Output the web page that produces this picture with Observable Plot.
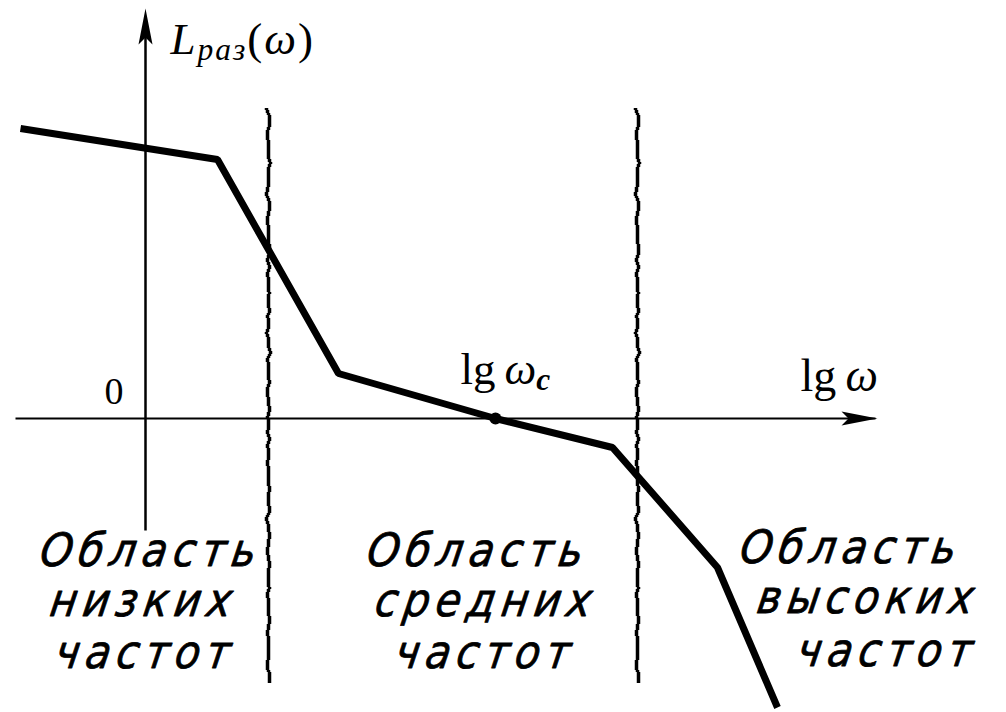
<!DOCTYPE html>
<html>
<head>
<meta charset="utf-8">
<script src="https://cdn.jsdelivr.net/npm/d3@7"></script>
<script src="https://cdn.jsdelivr.net/npm/@observablehq/plot@0.6"></script>
<style>
  html, body { margin: 0; padding: 0; background: #fff; }
  #chart svg { display: block; }
</style>
</head>
<body>
<div id="chart"></div>
<script>
// Asymptotic log-magnitude characteristic L_раз(lg ω) of an open loop system
const lgOmega = [-1.25, 0.72, 1.93, 3.50, 4.67, 5.72, 6.32];
const lRaz    = [2.90, 2.59, 0.45, 0.00, -0.29, -1.49, -2.89];

// crossover frequency lg ω_c (where L crosses zero)
const lgOmegaC = 3.50;

// boundaries between low / middle / high frequency regions
const regionBounds = [1.23, 4.92];

// region captions, one entry per line
const regionText = [
  "Область", "низких", "частот",
  "Область", "средних", "частот",
  "Область", "высоких", "частот"
];
const regionTextX = [-1.07, -0.97, -0.92, 2.20, 2.28, 2.48, 5.93, 6.10, 6.50];
const regionTextY = [-1.47, -1.97, -2.49, -1.47, -1.97, -2.49, -1.44, -1.94, -2.47];

// axis labels (serif, with sub-scripts added afterwards)
const axisText  = ["Lраз(ω)", "0", "lgωc", "lgω"];
const axisTextX = [0.25, -0.41, 3.15, 6.55];
const axisTextY = [3.65, 0.15, 0.35, 0.28];
const axisTextSize = [45, 38, 45, 46];

// axis extents
const xAxisFrom = -1.30, xAxisTo = 7.30;
const yAxisFrom = -1.12, yAxisTo = 4.10;
const boundFrom = 3.10, boundTo = -2.65;

const curve = lgOmega.map((x, i) => ({x, y: lRaz[i]}));
const regions = regionText.map((t, i) => ({t, x: regionTextX[i], y: regionTextY[i]}));
const axisLabels = axisText.map((t, i) => ({t, x: axisTextX[i], y: axisTextY[i], s: axisTextSize[i]}));

// narrow filled arrow head, tip at the symbol origin, pointing up
const arrowHead = {
  draw(ctx) {
    ctx.moveTo(0, 0);
    ctx.lineTo(-7, 36);
    ctx.lineTo(0, 29);
    ctx.lineTo(7, 36);
    ctx.closePath();
  }
};

const svg = Plot.plot({
  width: 1006,
  height: 712,
  margin: 0,
  x: {domain: [-1.45, 8.61], axis: null},
  y: {domain: [-2.94, 4.18], axis: null},
  style: {background: "#fff"},
  marks: [
    // coordinate axes
    Plot.link([{x1: xAxisFrom, y1: 0, x2: xAxisTo, y2: 0}], {x1: "x1", y1: "y1", x2: "x2", y2: "y2", stroke: "#000", strokeWidth: 2}),
    Plot.link([{x1: 0, y1: yAxisFrom, x2: 0, y2: yAxisTo - 0.1}], {x1: "x1", y1: "y1", x2: "x2", y2: "y2", stroke: "#000", strokeWidth: 2.5}),
    Plot.dot([{x: xAxisTo + 0.02, y: 0, a: 90}, {x: 0, y: yAxisTo, a: 0}], {x: "x", y: "y", rotate: "a", symbol: arrowHead, fill: "#000", stroke: "none"}),
    // region boundaries (wavy hand-drawn lines)
    Plot.ruleX(regionBounds, {x: d => d, y1: boundFrom, y2: boundTo, stroke: "#000", strokeWidth: 3.5}),
    // the characteristic
    Plot.line(curve, {x: "x", y: "y", stroke: "#000", strokeWidth: 7, strokeLinejoin: "miter", strokeLinecap: "butt"}),
    Plot.dot([{x: lgOmegaC, y: 0}], {x: "x", y: "y", r: 6, fill: "#000"}),
    // region captions
    Plot.text(regions, {x: "x", y: "y", text: "t", textAnchor: "start", lineAnchor: "bottom",
      fontFamily: "DejaVu Sans", fontStyle: "italic", fontSize: 41, fill: "#000", stroke: "#000", strokeWidth: 0.7}),
    // axis labels
    Plot.text(axisLabels, {x: "x", y: "y", text: "t", textAnchor: "start", lineAnchor: "bottom",
      fontFamily: "Liberation Serif", fontSize: "s", fill: "#000"})
  ]
});

const root = d3.select(svg);

// wavy distortion for the region boundaries (shift each row sideways)
const defs = root.insert("defs", ":first-child");
const filt = defs.append("filter").attr("id", "wavy")
  .attr("filterUnits", "userSpaceOnUse")
  .attr("color-interpolation-filters", "sRGB")
  .attr("x", 0).attr("y", 0).attr("width", 1006).attr("height", 712);
filt.append("feTurbulence").attr("type", "fractalNoise")
  .attr("baseFrequency", "0 0.07").attr("numOctaves", 2).attr("seed", 11).attr("result", "noise");
filt.append("feColorMatrix").attr("in", "noise").attr("type", "matrix")
  .attr("values", "1 0 0 0 0  0 0 0 0 0.5  0 0 0 0 0  0 0 0 0 1").attr("result", "map");
filt.append("feDisplacementMap").attr("in", "SourceGraphic").attr("in2", "map")
  .attr("scale", 7).attr("xChannelSelector", "R").attr("yChannelSelector", "G");
root.selectAll('g[aria-label="rule"]').attr("filter", "url(#wavy)");

// captions: wider spacing and a steeper slant, like a drafting stencil
const textGroups = root.selectAll('g[aria-label="text"]').nodes();
d3.select(textGroups[0]).style("letter-spacing", "6px")
  .selectAll("text").each(function() {
    const el = d3.select(this);
    el.attr("transform", (el.attr("transform") || "") + " skewX(-9) scale(1,1.12)");
  });

// rich axis labels: italic symbols and sub-scripts
const runs = {
  "Lраз(ω)": [["L", "i"], ["раз", "is"], ["(", ""], ["ω", "i"], [")", ""]],
  "0": [["0", ""]],
  "lgωc": [["lg", ""], ["\u2009", ""], ["ω", "i"], ["c", "bis"]],
  "lgω": [["lg", ""], ["\u2009", ""], ["ω", "i"]]
};
d3.select(textGroups[1]).selectAll("text").each(function() {
  const el = d3.select(this);
  const key = el.text();
  const parts = runs[key];
  if (!parts) return;
  if (key.startsWith("L")) el.style("letter-spacing", "2px");
  el.text(null);
  let sub = false;
  for (const [t, f] of parts) {
    const ts = el.append("tspan").text(t);
    if (f.includes("i")) ts.attr("font-style", "italic");
    if (f.includes("b")) ts.attr("font-weight", "bold");
    if (f.includes("s")) {
      ts.attr("font-size", "0.7em").attr("dy", sub ? null : "0.2em");
      sub = true;
    } else if (sub) {
      ts.attr("dy", "-0.14em");
      sub = false;
    }
  }
});

document.getElementById("chart").append(svg);
</script>
</body>
</html>
